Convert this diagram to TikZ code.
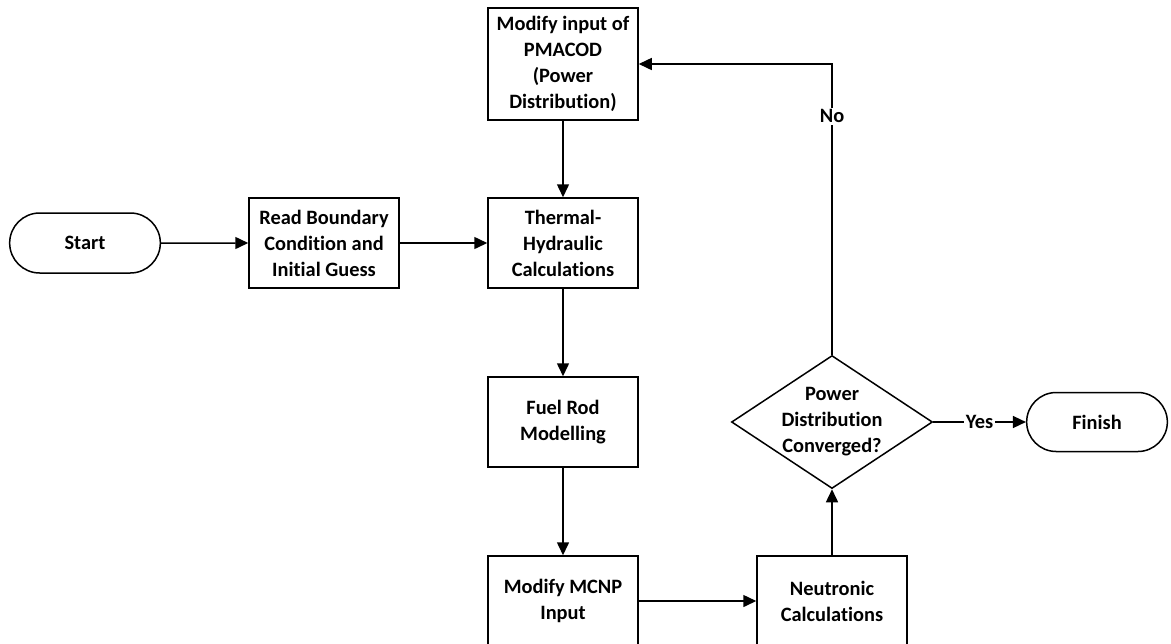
\documentclass[tikz,border=0pt]{standalone}
\usepackage{fontspec}
\setmainfont{Carlito}[Ligatures=NoCommon]
\usetikzlibrary{arrows.meta,shapes.geometric,shapes.misc}

\begin{document}
\begin{tikzpicture}[x=0.5pt,y=-0.5pt,
		font=\fontsize{10.2}{13}\selectfont\bfseries,
		box/.style={draw,line width=0.75pt,minimum width=75pt,minimum height=45pt,inner sep=1pt,align=center},
		term/.style={draw,line width=0.75pt,rounded rectangle,minimum width=82pt,minimum height=30pt},
		decide/.style={draw,line width=0.75pt,diamond,minimum width=100.5pt,minimum height=66.5pt,inner sep=0pt},
		flow/.style={line width=0.75pt,-{Triangle[length=6.5pt,width=6pt]}},
		lbl/.style={fill=white,inner sep=1pt}]
		\useasboundingbox (0,0) rectangle (1171,643);
		\def \col{ 563 };
		\def \loop{ 832 };
		% nodes
		\node[term] (start) at (85,243) {Start};
		\node[box] (read) at (324,243) {Read Boundary\\Condition and\\Initial Guess};
		\node[box,minimum height=56pt] (pmacod) at (\col,64) {Modify input of\\PMACOD\\(Power\\Distribution)};
		\node[box] (thermal) at (\col,243) {Thermal-\\Hydraulic\\Calculations};
		\node[box] (fuel) at (\col,422) {Fuel Rod\\Modelling};
		\node[box] (mcnp) at (\col,601) {Modify MCNP\\Input};
		\node[box] (neutronic) at (\loop,601) {Neutronic\\Calculations};
		\node[decide,label={[align=center]center:Power\\Distribution\\Converged?}] (conv) at (\loop,422) {};
		\node[term,minimum width=77pt,minimum height=29.5pt] (finish) at (1097,422) {Finish};
		% connectors
		\draw[flow] (start) -- (read);
		\draw[flow] (read) -- (thermal);
		\draw[flow] (pmacod) -- (thermal);
		\draw[flow] (thermal) -- (fuel);
		\draw[flow] (fuel) -- (mcnp);
		\draw[flow] (mcnp) -- (neutronic);
		\draw[flow] (neutronic) -- (conv);
		\draw[flow] (conv.north) |- node[lbl,pos=0.41] (no) {No} (pmacod.east);
		\draw[flow] (conv.east) -- node[lbl] (yes) {Yes} (finish.west);
	\end{tikzpicture}
\end{document}
